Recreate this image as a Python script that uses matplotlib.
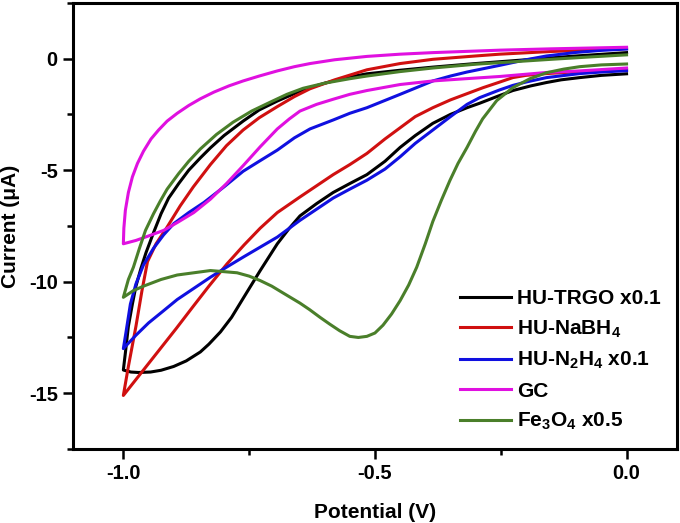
import matplotlib
matplotlib.use("Agg")
import matplotlib.pyplot as plt
from matplotlib.ticker import MultipleLocator

plt.rcParams['font.family'] = ['Liberation Sans', 'DejaVu Sans']
plt.rcParams['font.weight'] = 'bold'
plt.rcParams['axes.unicode_minus'] = False
plt.rcParams['mathtext.fontset'] = 'custom'
plt.rcParams['mathtext.rm'] = 'Liberation Sans:bold'
plt.rcParams['mathtext.bf'] = 'Liberation Sans:bold'
plt.rcParams['mathtext.it'] = 'Liberation Sans:bold'
plt.rcParams['mathtext.default'] = 'bf'

# each loop: from 0 V down to -1.0 V (lower branch), then back to 0 V (upper branch)
trgo_x = [0.0, -0.05, -0.093, -0.13, -0.159, -0.19, -0.226, -0.26, -0.292, -0.317, -0.35, -0.385,
          -0.42, -0.45, -0.48, -0.516, -0.55, -0.583, -0.616, -0.649, -0.67, -0.694, -0.728,
          -0.762, -0.785, -0.807, -0.83, -0.847, -0.875, -0.9, -0.925, -0.946, -0.97, -0.985, -1.0,
          -0.995, -0.99, -0.982, -0.975, -0.965, -0.955, -0.94, -0.925, -0.91, -0.89, -0.87,
          -0.847, -0.827, -0.8, -0.762, -0.73, -0.694, -0.643, -0.6, -0.55, -0.516, -0.45,
          -0.385, -0.3, -0.2, -0.1, 0.0]
trgo_y = [-0.68, -0.75, -0.85, -0.95, -1.07, -1.22, -1.43, -1.72, -2.0, -2.2, -2.5, -2.9,
          -3.45, -3.98, -4.6, -5.2, -5.6, -6.0, -6.5, -7.05, -7.6, -8.3, -9.5,
          -10.75, -11.6, -12.25, -12.8, -13.15, -13.55, -13.8, -13.97, -14.05, -14.07, -14.05, -13.96,
          -13.0, -12.0, -11.0, -10.2, -9.4, -8.7, -7.8, -6.95, -6.25, -5.6, -5.0,
          -4.45, -4.0, -3.45, -2.8, -2.3, -1.9, -1.4, -1.1, -0.82, -0.68, -0.52,
          -0.38, -0.22, -0.05, 0.12, 0.27]

nabh4_x = [0.0, -0.05, -0.093, -0.159, -0.2, -0.226, -0.252, -0.285, -0.317, -0.35, -0.385,
           -0.42, -0.45, -0.48, -0.516, -0.55, -0.583, -0.616, -0.649, -0.694, -0.728, -0.76,
           -0.794, -0.83, -0.861, -0.895, -0.93, -0.965, -1.0,
           -0.99, -0.975, -0.963, -0.952, -0.935, -0.913, -0.887, -0.861, -0.827, -0.795,
           -0.762, -0.73, -0.694, -0.66, -0.629, -0.58, -0.516, -0.45, -0.385, -0.3, -0.252,
           -0.15, 0.0]
nabh4_y = [-0.5, -0.54, -0.58, -0.67, -0.75, -0.85, -1.05, -1.3, -1.57, -1.85, -2.2,
           -2.6, -3.1, -3.6, -4.25, -4.75, -5.2, -5.7, -6.2, -6.9, -7.6, -8.35,
           -9.2, -10.2, -11.1, -12.1, -13.1, -14.1, -15.1,
           -13.8, -12.0, -10.4, -9.1, -8.3, -7.55, -6.6, -5.75, -4.75, -3.9,
           -3.2, -2.65, -2.15, -1.7, -1.35, -0.95, -0.5, -0.22, -0.03, 0.12, 0.2,
           0.32, 0.45]

n2h4_x = [0.0, -0.05, -0.093, -0.159, -0.2, -0.226, -0.252, -0.292, -0.317, -0.35, -0.385,
          -0.42, -0.45, -0.48, -0.516, -0.55, -0.583, -0.616, -0.649, -0.67, -0.694, -0.728,
          -0.762, -0.795, -0.827, -0.86, -0.893, -0.92, -0.95, -0.975, -1.0,
          -0.995, -0.986, -0.975, -0.96, -0.94, -0.92, -0.9, -0.87, -0.84, -0.8, -0.762,
          -0.73, -0.694, -0.66, -0.629, -0.583, -0.55, -0.516, -0.45, -0.385, -0.35, -0.317,
          -0.252, -0.2, -0.159, -0.1, -0.05, 0.0]
n2h4_y = [-0.54, -0.6, -0.67, -0.85, -1.05, -1.2, -1.4, -1.75, -2.05, -2.6, -3.2,
          -3.8, -4.4, -4.95, -5.45, -5.85, -6.25, -6.75, -7.25, -7.6, -8.0, -8.45,
          -8.9, -9.35, -9.8, -10.3, -10.8, -11.3, -11.85, -12.4, -13.0,
          -12.3, -11.0, -10.1, -9.25, -8.5, -7.9, -7.4, -6.9, -6.45, -5.75, -5.05,
          -4.6, -4.1, -3.55, -3.15, -2.75, -2.45, -2.2, -1.6, -1.0, -0.78, -0.6,
          -0.3, -0.05, 0.12, 0.28, 0.37, 0.43]

gc_x = [0.0, -0.093, -0.159, -0.252, -0.32, -0.385, -0.45, -0.516, -0.55, -0.583, -0.616,
        -0.649, -0.67, -0.694, -0.728, -0.762, -0.795, -0.827, -0.86, -0.893, -0.92, -0.95,
        -0.975, -1.0,
        -0.999, -0.996, -0.99, -0.982, -0.972, -0.96, -0.945, -0.93, -0.913, -0.893, -0.87,
        -0.847, -0.82, -0.79, -0.762, -0.73, -0.694, -0.66, -0.629, -0.58, -0.516, -0.45,
        -0.385, -0.3, -0.252, -0.15, 0.0]
gc_y = [-0.42, -0.55, -0.62, -0.8, -0.9, -1.0, -1.16, -1.43, -1.6, -1.82, -2.05,
        -2.35, -2.7, -3.15, -3.95, -4.8, -5.6, -6.3, -6.9, -7.35, -7.7, -7.95,
        -8.15, -8.3,
        -7.6, -6.8, -6.0, -5.3, -4.7, -4.15, -3.6, -3.2, -2.8, -2.45, -2.1,
        -1.8, -1.5, -1.22, -1.0, -0.78, -0.55, -0.36, -0.22, -0.05, 0.1, 0.2,
        0.27, 0.34, 0.38, 0.44, 0.51]

fe3o4_x = [0.0, -0.05, -0.093, -0.125, -0.159, -0.192, -0.226, -0.258, -0.286, -0.3, -0.317,
           -0.335, -0.351, -0.368, -0.385, -0.4, -0.417, -0.433, -0.45, -0.467, -0.484, -0.5,
           -0.516, -0.533, -0.55, -0.57, -0.59, -0.609, -0.63, -0.649, -0.683, -0.705, -0.728,
           -0.75, -0.774, -0.8, -0.827, -0.86, -0.893, -0.925, -0.96, -0.98, -1.0,
           -0.995, -0.99, -0.98, -0.968, -0.956, -0.94, -0.927, -0.913, -0.89, -0.87, -0.847,
           -0.815, -0.782, -0.745, -0.708, -0.675, -0.643, -0.6, -0.55, -0.516, -0.45, -0.385,
           -0.3, -0.252, -0.15, -0.07, 0.0]
fe3o4_y = [-0.24, -0.28, -0.36, -0.47, -0.63, -0.9, -1.3, -1.88, -2.7, -3.25, -3.98,
           -4.7, -5.46, -6.35, -7.3, -8.3, -9.35, -10.15, -10.85, -11.45, -11.95, -12.3,
           -12.45, -12.5, -12.45, -12.2, -11.9, -11.6, -11.25, -10.96, -10.5, -10.2, -9.95,
           -9.75, -9.6, -9.55, -9.5, -9.6, -9.7, -9.9, -10.2, -10.4, -10.7,
           -10.3, -9.9, -9.35, -8.5, -7.7, -6.95, -6.4, -5.85, -5.15, -4.6, -4.05,
           -3.4, -2.85, -2.35, -1.95, -1.6, -1.33, -1.1, -0.9, -0.78, -0.58, -0.42,
           -0.25, -0.18, -0.03, 0.08, 0.17]

labels = ['HU-TRGO x0.1', 'HU-NaBH$_4$', 'HU-N$_2$H$_4$ x0.1', 'GC', 'Fe$_3$O$_4$ x0.5']
colors = ['#000000', '#d01010', '#1010e0', '#e010e0', '#4a7f2a']

fig = plt.figure(figsize=(6.8, 5.23), dpi=100)
ax = fig.add_axes([0.1074, 0.1415, 0.888, 0.853])

series = [(trgo_x, trgo_y), (nabh4_x, nabh4_y), (n2h4_x, n2h4_y), (gc_x, gc_y), (fe3o4_x, fe3o4_y)]
for (x, y), lab, c in zip(series, labels, colors):
    ax.plot(x, y, color=c, lw=2.2, label=lab, solid_joinstyle='round')

ax.set_xlim(-1.1, 0.1)
ax.set_ylim(-17.5, 2.5)
ax.set_xticks([-1.0, -0.5, 0.0])
ax.set_xticklabels(['-1.0', '-0.5', '0.0'])
ax.set_yticks([-15, -10, -5, 0])
ax.set_yticklabels(['-15', '-10', '-5', '0'])
ax.xaxis.set_minor_locator(MultipleLocator(0.25))
ax.yaxis.set_minor_locator(MultipleLocator(2.5))
ax.tick_params(which='major', direction='out', length=7, width=1.8, labelsize=14.5, pad=4)
ax.tick_params(which='minor', direction='out', length=4.5, width=1.8)
for s in ax.spines.values():
    s.set_linewidth(2.2)

ax.set_xlabel('Potential (V)', fontsize=15, fontweight='bold', labelpad=14)
ax.set_ylabel('Current (μA)', fontsize=15, fontweight='bold', labelpad=6)

ax.legend(loc='lower right', bbox_to_anchor=(1.005, -0.005), frameon=False, fontsize=15,
          handlelength=2.45, handletextpad=0.3, labelspacing=0.5)

fig.savefig('out.png', dpi=100)
